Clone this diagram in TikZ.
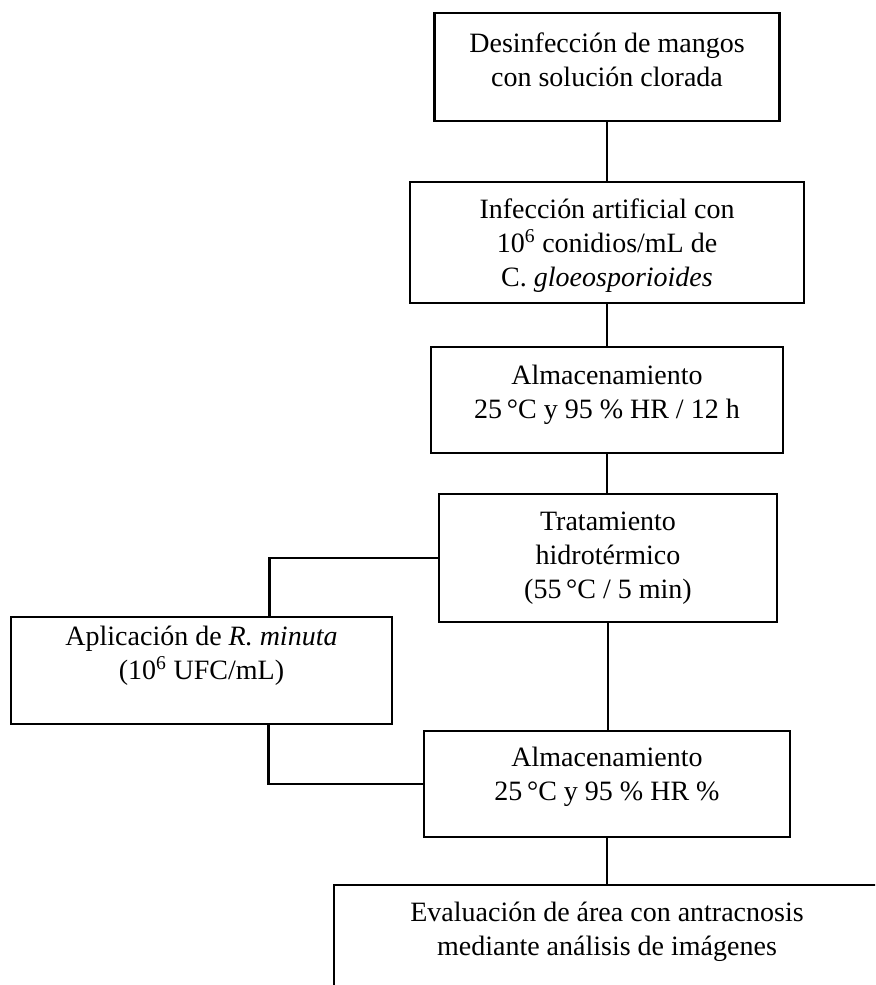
\documentclass[tikz,border=0pt]{standalone}
\usepackage{fontspec}
\setmainfont{Liberation Serif}
\usetikzlibrary{positioning,calc}
\tikzset{
  stage/.style={draw, line width=1.8pt, align=center, inner sep=0pt, font=\fontsize{21}{25.5}\selectfont},
  link/.style={line width=1.8pt}
}
\newcommand{\grad}{\,°C}

\begin{document}
\begin{tikzpicture}[x=0.75pt,y=-0.75pt]
  \useasboundingbox (0,0) rectangle (875,985);
  \clip (0,0) rectangle (875,985);

  \node[stage, minimum width=258.75pt, minimum height=81pt, text depth=11pt] (desinf) at (607,67) {Desinfección de mangos\\con solución clorada};
  \node[stage, minimum width=295.5pt, minimum height=90.75pt, text depth=0pt] (infec) at (607,242.5) {Infección artificial con\\10\textsuperscript{6} conidios/mL de\\C. \textit{gloeosporioides}};
  \node[stage, minimum width=264pt, minimum height=79.5pt, text depth=12.5pt] (almac) at (607,400) {Almacenamiento\\25\grad{} y 95 \% HR / 12 h};
  \node[stage, minimum width=253.5pt, minimum height=96pt] (trat) at (608,558) {Tratamiento\\hidrotérmico\\(55\grad{} / 5 min)};
  \node[stage, minimum width=285.75pt, minimum height=80.25pt, text depth=26pt] (aplic) at (201.5,670.5) {Aplicación de \textit{R. minuta}\\(10\textsuperscript{6} UFC/mL)};
  \node[stage, minimum width=274.5pt, minimum height=79.5pt, text depth=15pt] (almacdos) at (607,784) {Almacenamiento\\25\grad{} y 95 \% HR \%};
  \node[stage, minimum width=409.5pt, minimum height=86.25pt, text depth=20pt] (eval) at (607,942.5) {Evaluación de área con antracnosis\\mediante análisis de imágenes};

  \draw[link] (desinf) -- (infec);
  \draw[link] (infec) -- (almac);
  \draw[link] (almac.south) -- (almac.south |- trat.north);
  \draw[link] (trat.south) -- (trat.south |- almacdos.north);
  \draw[link] (almacdos) -- (eval);
  \draw[link] (trat.west) -| ($(aplic.north)+(68,0)$);
  \draw[link] ($(aplic.south)+(67,0)$) |- (almacdos.west);
\end{tikzpicture}
\end{document}
